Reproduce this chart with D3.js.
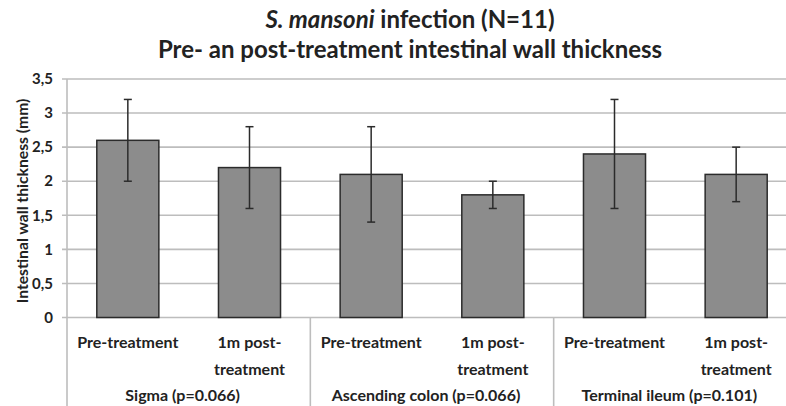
<!DOCTYPE html>
<html><head><meta charset="utf-8">
<script src="https://cdn.jsdelivr.net/npm/d3@7"></script>
<style>
body{margin:0;background:#fff;}
svg{display:block;font-family:Lato,"Liberation Sans",sans-serif;}
</style></head>
<body><svg id="c" width="786" height="406"></svg>
<script>
const groups = ["Sigma (p=0.066)", "Ascending colon (p=0.066)", "Terminal ileum (p=0.101)"];
const phases = ["Pre-treatment", "1m post-treatment"];
const phaseLabels = [["Pre-treatment"], ["1m post-", "treatment"]];
const means = [2.6, 2.2, 2.1, 1.8, 2.4, 2.1];
const errs = [0.6, 0.6, 0.7, 0.2, 0.8, 0.4];
const yTicks = [0, 0.5, 1, 1.5, 2, 2.5, 3, 3.5];
const yTickLabels = ["0", "0,5", "1", "1,5", "2", "2,5", "3", "3,5"];

(function(){
const svg = d3.select("#c");
const W = 786, H = 406;
const mLeft = 67, mTop = 79, mBottom = 317.5, mRight = 797;

const y = d3.scaleLinear().domain([0, 3.5]).range([mBottom, mTop]);
const xg = d3.scaleBand().domain(groups).range([mLeft, mRight]).padding(0);
const xp = d3.scaleBand().domain(phases).range([0, xg.bandwidth()]).paddingInner(0.49).paddingOuter(0.245);

svg.append("g").selectAll("line").data(yTicks).join("line")
  .attr("x1", mLeft - 5).attr("x2", W)
  .attr("y1", d => y(d)).attr("y2", d => y(d))
  .attr("stroke", "#bdbdbd").attr("stroke-width", 1.6);

svg.append("line").attr("x1", mLeft).attr("x2", mLeft).attr("y1", mTop).attr("y2", H)
  .attr("stroke", "#bdbdbd").attr("stroke-width", 1.6);

svg.append("g").selectAll("line").data(groups.slice(1)).join("line")
  .attr("x1", d => xg(d)).attr("x2", d => xg(d))
  .attr("y1", mBottom).attr("y2", H)
  .attr("stroke", "#bdbdbd").attr("stroke-width", 1.6);

svg.append("g").selectAll("text").data(yTicks).join("text")
  .attr("x", 53).attr("y", d => y(d)).attr("dy", "0.35em")
  .attr("text-anchor", "end").attr("font-size", 15).attr("font-weight", "bold")
  .attr("fill", "#222").text((d, i) => yTickLabels[i]);

const rows = [];
groups.forEach((g, gi) => phases.forEach((p, pi) => {
  const k = gi * 2 + pi;
  rows.push({g, p, pi, m: means[k], e: errs[k]});
}));

const cx = d => xg(d.g) + xp(d.p) + xp.bandwidth() / 2;

svg.append("g").selectAll("rect").data(rows).join("rect")
  .attr("x", d => xg(d.g) + xp(d.p)).attr("width", xp.bandwidth())
  .attr("y", d => y(d.m)).attr("height", d => y(0) - y(d.m))
  .attr("fill", "#8c8c8c").attr("stroke", "#2b2b2b").attr("stroke-width", 1.5);

const eg = svg.append("g").attr("stroke", "#2b2b2b").attr("stroke-width", 1.5);
eg.selectAll(".v").data(rows).join("line")
  .attr("x1", cx).attr("x2", cx)
  .attr("y1", d => y(d.m + d.e)).attr("y2", d => y(d.m - d.e));
eg.selectAll(".t").data(rows).join("line")
  .attr("x1", d => cx(d) - 4).attr("x2", d => cx(d) + 4)
  .attr("y1", d => y(d.m + d.e)).attr("y2", d => y(d.m + d.e));
eg.selectAll(".b").data(rows).join("line")
  .attr("x1", d => cx(d) - 4).attr("x2", d => cx(d) + 4)
  .attr("y1", d => y(d.m - d.e)).attr("y2", d => y(d.m - d.e));

const pl = svg.append("g").attr("font-size", 16).attr("font-weight", "bold").attr("fill", "#222").attr("text-anchor", "middle");
rows.forEach(d => {
  phaseLabels[d.pi].forEach((line, li) => {
    pl.append("text").attr("x", cx(d)).attr("y", 348 + li * 27).text(line);
  });
});

svg.append("g").selectAll("text").data(groups).join("text")
  .attr("x", d => xg(d) + xg.bandwidth() / 2 - 6).attr("y", 401)
  .attr("text-anchor", "middle").attr("font-size", 16).attr("font-weight", "bold").attr("fill", "#222")
  .text(d => d);

svg.append("text").attr("transform", "translate(28,201) rotate(-90)")
  .attr("text-anchor", "middle").attr("font-size", 15.7).attr("font-weight", "bold").attr("fill", "#222")
  .text("Intestinal wall thickness (mm)");

const t1 = svg.append("text").attr("x", 410).attr("y", 28).attr("text-anchor", "middle")
  .attr("font-size", 24).attr("font-weight", "bold").attr("fill", "#222");
t1.append("tspan").attr("font-style", "italic").text("S. mansoni");
t1.append("tspan").text(" infection (N=11)");
svg.append("text").attr("x", 410).attr("y", 58).attr("text-anchor", "middle")
  .attr("font-size", 24).attr("font-weight", "bold").attr("fill", "#222")
  .text("Pre- an post-treatment intestinal wall thickness");
})();
</script></body></html>
